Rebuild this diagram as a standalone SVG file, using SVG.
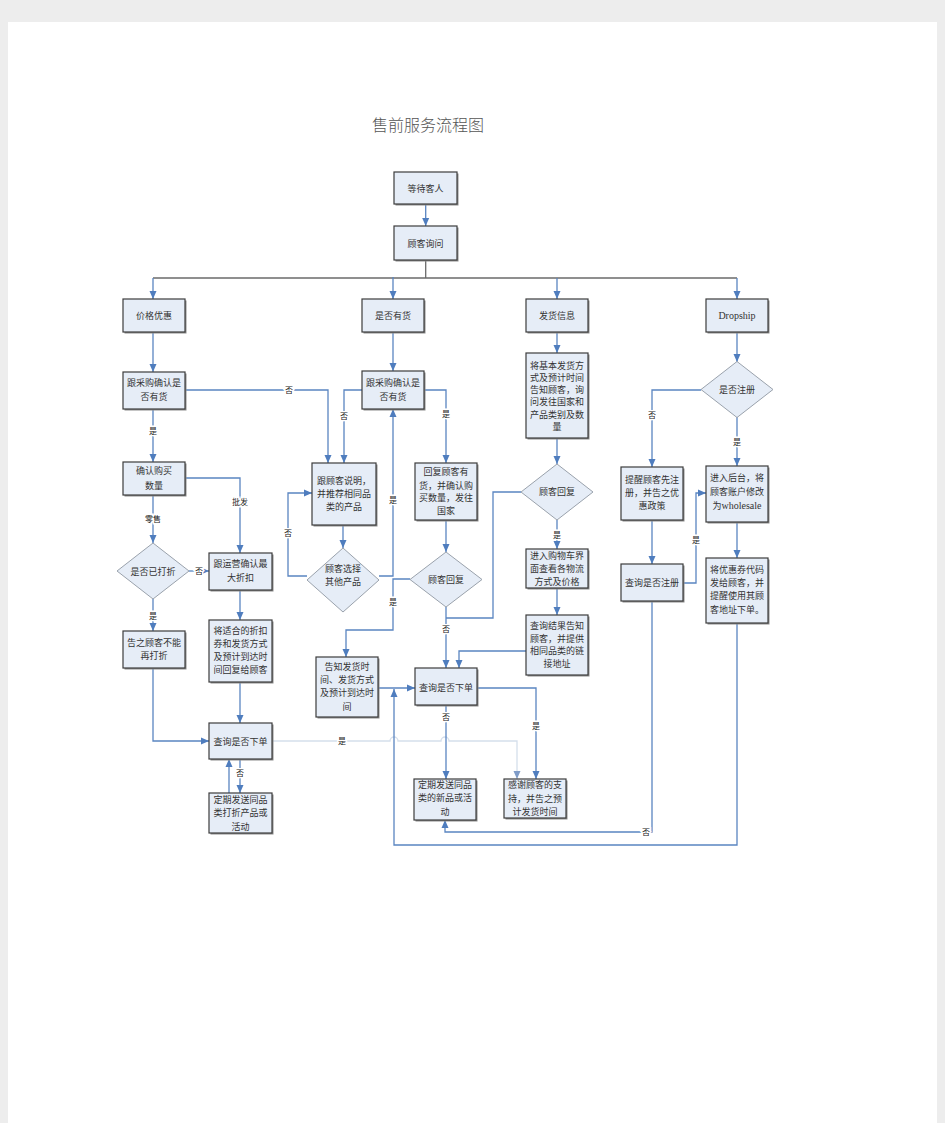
<svg xmlns="http://www.w3.org/2000/svg" width="945" height="1123" viewBox="0 0 945 1123">
<style>
.bg{fill:#ededed}
.page{fill:#ffffff}
.sh{fill:#8c8c8c}
.box{fill:#e6edf7;stroke:#3c3c3c;stroke-width:1.2}
.dia{fill:#e6edf7;stroke:#9aa2ac;stroke-width:1}
.t{font-family:"Noto Sans CJK SC","Noto Sans",sans-serif;font-size:9px;fill:#333;text-anchor:middle}
.lat{font-family:"Liberation Serif","Noto Sans CJK SC",serif;font-size:10px}
.c{fill:none;stroke:#5a85c1;stroke-width:1.3}
.g{fill:none;stroke:#6b6b6b;stroke-width:1.3}
.f{fill:none;stroke:#d5dfec;stroke-width:1.3}
.l{font-family:"Noto Sans CJK SC","Noto Sans",sans-serif;font-size:8px;fill:#222;text-anchor:middle;stroke:#fff;stroke-width:3;paint-order:stroke}
.title{font-family:"Noto Sans CJK SC",sans-serif;font-size:16px;fill:#555;text-anchor:middle;font-weight:300}
</style>
<defs>
<marker id="a" markerUnits="userSpaceOnUse" markerWidth="8" markerHeight="8" refX="8" refY="4" orient="auto"><path d="M0,0.5 L8,4 L0,7.5 z" fill="#4f7dbe"/></marker>
<marker id="af" markerUnits="userSpaceOnUse" markerWidth="8" markerHeight="8" refX="8" refY="4" orient="auto"><path d="M0,0.5 L8,4 L0,7.5 z" fill="#7f9cc8"/></marker>
</defs>
<rect class="bg" x="0" y="0" width="945" height="1123"/>
<rect class="page" x="8" y="22" width="929" height="1101"/>
<text class="title" x="428" y="131">售前服务流程图</text>

<g id="connectors">
<path class="g" d="M425.7,260 V278 M153,278 H737"/>
<path class="c" marker-end="url(#a)" d="M425.7,204 V226"/>
<path class="c" marker-end="url(#a)" d="M153,278 V299"/>
<path class="c" marker-end="url(#a)" d="M393,277 V299"/>
<path class="c" marker-end="url(#a)" d="M557,278 V299"/>
<path class="c" marker-end="url(#a)" d="M737,278 V299"/>
<path class="c" marker-end="url(#a)" d="M153,332 V372"/>
<path class="c" marker-end="url(#a)" d="M185,390 H328 V463"/>
<path class="c" marker-end="url(#a)" d="M153,409 V462"/>
<path class="c" marker-end="url(#a)" d="M185,478 H240 V553"/>
<path class="c" marker-end="url(#a)" d="M153,495 V543"/>
<path class="c" marker-end="url(#a)" d="M189,571 H209"/>
<path class="c" marker-end="url(#a)" d="M153,599 V631"/>
<path class="c" marker-end="url(#a)" d="M240,590 V620"/>
<path class="c" marker-end="url(#a)" d="M240,682 V723"/>
<path class="c" marker-end="url(#a)" d="M153,668 V741 H209"/>
<path class="c" marker-end="url(#a)" d="M240,759 V793"/>
<path class="c" marker-end="url(#a)" d="M229,793 V759"/>
<path class="f" marker-end="url(#af)" d="M272,741 H390 a4,4 0 0 1 8,0 H441 a4,4 0 0 1 8,0 H517 V779"/>
<path class="c" marker-end="url(#a)" d="M393,332 V371"/>
<path class="c" marker-end="url(#a)" d="M362,390 H344 V463"/>
<path class="c" marker-end="url(#a)" d="M424,390 H446 V463"/>
<path class="c" marker-end="url(#a)" d="M343,525 V548"/>
<path class="c" marker-end="url(#a)" d="M307,576 H288 V493 H312"/>
<path class="c" marker-end="url(#a)" d="M379,576 H393 V409"/>
<path class="c" marker-end="url(#a)" d="M446,520 V552"/>
<path class="c" marker-end="url(#a)" d="M410,579 H393 V630 H346 V657"/>
<path class="c" marker-end="url(#a)" d="M446,607 V668"/>
<path class="c" d="M521,492 H493 V618 H446"/>
<path class="c" marker-end="url(#a)" d="M526,651 H459 V668"/>
<path class="c" marker-end="url(#a)" d="M378,688 H415"/>
<path class="c" marker-end="url(#a)" d="M737,623 V845 H394 V689"/>
<path class="c" marker-end="url(#a)" d="M446,705 V779"/>
<path class="c" marker-end="url(#a)" d="M477,688 H536 V779"/>
<path class="c" marker-end="url(#a)" d="M557,332 V353"/>
<path class="c" marker-end="url(#a)" d="M557,438 V464"/>
<path class="c" marker-end="url(#a)" d="M557,520 V549"/>
<path class="c" marker-end="url(#a)" d="M557,588 V615"/>
<path class="c" marker-end="url(#a)" d="M737,332 V362"/>
<path class="c" marker-end="url(#a)" d="M701,390 H652 V467"/>
<path class="c" marker-end="url(#a)" d="M737,417 V466"/>
<path class="c" marker-end="url(#a)" d="M652,520 V564"/>
<path class="c" marker-end="url(#a)" d="M683,583 H696 V493 H706"/>
<path class="c" marker-end="url(#a)" d="M737,522 V558"/>
<path class="c" marker-end="url(#a)" d="M652,601 V832 H445 V820"/>
<text class="l" x="289" y="393">否</text>
<text class="l" x="153" y="434">是</text>
<text class="l" x="240" y="505">批发</text>
<text class="l" x="153" y="522">零售</text>
<text class="l" x="199" y="574">否</text>
<text class="l" x="153" y="619">是</text>
<text class="l" x="240" y="776">否</text>
<text class="l" x="342" y="744">是</text>
<text class="l" x="344" y="419">否</text>
<text class="l" x="446" y="417">是</text>
<text class="l" x="288" y="536">否</text>
<text class="l" x="393" y="503">是</text>
<text class="l" x="393" y="605">是</text>
<text class="l" x="446" y="632">否</text>
<text class="l" x="446" y="720">否</text>
<text class="l" x="536" y="729">是</text>
<text class="l" x="557" y="538">是</text>
<text class="l" x="652" y="418">否</text>
<text class="l" x="737" y="445">是</text>
<text class="l" x="696" y="543">是</text>
<text class="l" x="646" y="835">否</text>
</g>

<g id="n_wait"><rect class="sh" x="395.5" y="173.5" width="63" height="32"/><rect class="box" x="394" y="172" width="63" height="32"/><text class="t" x="425.5" y="191.5">等待客人</text></g>
<g id="n_ask"><rect class="sh" x="395.5" y="227.5" width="63" height="34"/><rect class="box" x="394" y="226" width="63" height="34"/><text class="t" x="425.5" y="246.5">顾客询问</text></g>
<g id="n_price"><rect class="sh" x="124.5" y="300.5" width="62" height="33"/><rect class="box" x="123" y="299" width="62" height="33"/><text class="t" x="154" y="319">价格优惠</text></g>
<g id="n_stock"><rect class="sh" x="363.5" y="300.5" width="62" height="33"/><rect class="box" x="362" y="299" width="62" height="33"/><text class="t" x="393" y="319">是否有货</text></g>
<g id="n_ship"><rect class="sh" x="527.5" y="300.5" width="62" height="33"/><rect class="box" x="526" y="299" width="62" height="33"/><text class="t" x="557" y="319">发货信息</text></g>
<g id="n_drop"><rect class="sh" x="707.5" y="300.5" width="62" height="33"/><rect class="box" x="706" y="299" width="62" height="33"/><text class="t lat" x="737" y="319">Dropship</text></g>
<g id="n_chk1"><rect class="sh" x="124.5" y="373.5" width="62" height="37"/><rect class="box" x="123" y="372" width="62" height="37"/><text class="t" x="154" y="386">跟采购确认是</text><text class="t" x="154" y="400">否有货</text></g>
<g id="n_qty"><rect class="sh" x="124.5" y="463.5" width="62" height="33"/><rect class="box" x="123" y="462" width="62" height="33"/><text class="t" x="154" y="474">确认购买</text><text class="t" x="154" y="488.5">数量</text></g>
<g id="n_chk2"><rect class="sh" x="363.5" y="372.5" width="62" height="38"/><rect class="box" x="362" y="371" width="62" height="38"/><text class="t" x="393" y="386">跟采购确认是</text><text class="t" x="393" y="400">否有货</text></g>
<g id="n_explain"><rect class="sh" x="313.5" y="464.5" width="64" height="62"/><rect class="box" x="312" y="463" width="64" height="62"/><text class="t" x="344" y="483.5">跟顾客说明，</text><text class="t" x="344" y="497">并推荐相同品</text><text class="t" x="344" y="509.5">类的产品</text></g>
<g id="n_reply"><rect class="sh" x="416.5" y="464.5" width="62" height="57"/><rect class="box" x="415" y="463" width="62" height="57"/><text class="t" x="446" y="475">回复顾客有</text><text class="t" x="446" y="488.5">货，并确认购</text><text class="t" x="446" y="500.5">买数量，发往</text><text class="t" x="446" y="513.5">国家</text></g>
<g id="n_info"><rect class="sh" x="527.5" y="354.5" width="62" height="85"/><rect class="box" x="526" y="353" width="62" height="85"/><text class="t" x="557" y="368.5">将基本发货方</text><text class="t" x="557" y="380.8">式及预计时间</text><text class="t" x="557" y="393.1">告知顾客，询</text><text class="t" x="557" y="405.4">问发往国家和</text><text class="t" x="557" y="417.7">产品类别及数</text><text class="t" x="557" y="430">量</text></g>
<g id="n_maxdisc"><rect class="sh" x="210.5" y="554.5" width="63" height="37"/><rect class="box" x="209" y="553" width="63" height="37"/><text class="t" x="240.5" y="567">跟运营确认最</text><text class="t" x="240.5" y="581">大折扣</text></g>
<g id="n_coupon"><rect class="sh" x="210.5" y="621.5" width="63" height="62"/><rect class="box" x="209" y="620" width="63" height="62"/><text class="t" x="240.5" y="634">将适合的折扣</text><text class="t" x="240.5" y="647">券和发货方式</text><text class="t" x="240.5" y="659.5">及预计到达时</text><text class="t" x="240.5" y="673">间回复给顾客</text></g>
<g id="n_nodisc"><rect class="sh" x="124.5" y="632.5" width="62" height="37"/><rect class="box" x="123" y="631" width="62" height="37"/><text class="t" x="154" y="645.5">告之顾客不能</text><text class="t" x="154" y="659">再打折</text></g>
<g id="n_order1"><rect class="sh" x="210.5" y="724.5" width="63" height="36"/><rect class="box" x="209" y="723" width="63" height="36"/><text class="t" x="240.5" y="744.5">查询是否下单</text></g>
<g id="n_promo1"><rect class="sh" x="210.5" y="794.5" width="63" height="40"/><rect class="box" x="209" y="793" width="63" height="40"/><text class="t" x="240.5" y="803">定期发送同品</text><text class="t" x="240.5" y="816">类打折产品或</text><text class="t" x="240.5" y="829.5">活动</text></g>
<g id="n_tell"><rect class="sh" x="317.5" y="658.5" width="62" height="60"/><rect class="box" x="316" y="657" width="62" height="60"/><text class="t" x="347" y="670">告知发货时</text><text class="t" x="347" y="683">间、发货方式</text><text class="t" x="347" y="696">及预计到达时</text><text class="t" x="347" y="709.5">间</text></g>
<g id="n_order2"><rect class="sh" x="416.5" y="669.5" width="62" height="37"/><rect class="box" x="415" y="668" width="62" height="37"/><text class="t" x="446" y="691">查询是否下单</text></g>
<g id="n_promo2"><rect class="sh" x="415.5" y="780.5" width="62" height="41"/><rect class="box" x="414" y="779" width="62" height="41"/><text class="t" x="445" y="788">定期发送同品</text><text class="t" x="445" y="801">类的新品或活</text><text class="t" x="445" y="815">动</text></g>
<g id="n_thanks"><rect class="sh" x="505.5" y="780.5" width="62" height="39"/><rect class="box" x="504" y="779" width="62" height="39"/><text class="t" x="535" y="788">感谢顾客的支</text><text class="t" x="535" y="801.5">持，并告之预</text><text class="t" x="535" y="814.5">计发货时间</text></g>
<g id="n_cart"><rect class="sh" x="527.5" y="550.5" width="62" height="39"/><rect class="box" x="526" y="549" width="62" height="39"/><text class="t" x="557" y="558.5">进入购物车界</text><text class="t" x="557" y="572">面查看各物流</text><text class="t" x="557" y="585">方式及价格</text></g>
<g id="n_result"><rect class="sh" x="527.5" y="616.5" width="62" height="60"/><rect class="box" x="526" y="615" width="62" height="60"/><text class="t" x="557" y="628.5">查询结果告知</text><text class="t" x="557" y="642">顾客，并提供</text><text class="t" x="557" y="654">相同品类的链</text><text class="t" x="557" y="667">接地址</text></g>
<g id="n_remind"><rect class="sh" x="622.5" y="468.5" width="62" height="53"/><rect class="box" x="621" y="467" width="62" height="53"/><text class="t" x="652" y="483">提醒顾客先注</text><text class="t" x="652" y="496">册，并告之优</text><text class="t" x="652" y="509">惠政策</text></g>
<g id="n_regchk"><rect class="sh" x="622.5" y="565.5" width="62" height="37"/><rect class="box" x="621" y="564" width="62" height="37"/><text class="t" x="652" y="586">查询是否注册</text></g>
<g id="n_backend"><rect class="sh" x="707.5" y="467.5" width="62" height="56"/><rect class="box" x="706" y="466" width="62" height="56"/><text class="t" x="737" y="481">进入后台，将</text><text class="t" x="737" y="495">顾客账户修改</text><text class="t" x="737" y="509">为<tspan class="lat">wholesale</tspan></text></g>
<g id="n_code"><rect class="sh" x="707.5" y="559.5" width="62" height="65"/><rect class="box" x="706" y="558" width="62" height="65"/><text class="t" x="737" y="573">将优惠券代码</text><text class="t" x="737" y="586">发给顾客，并</text><text class="t" x="737" y="599">提醒使用其顾</text><text class="t" x="737" y="613">客地址下单。</text></g>

<g id="d_disc"><polygon class="dia" points="153,543 189,571 153,599 117,571"/><text class="t" x="153" y="574.5">是否已打折</text></g>
<g id="d_other"><polygon class="dia" points="343,548 379,580 343,612 307,580"/><text class="t" x="343" y="572">顾客选择</text><text class="t" x="343" y="584.5">其他产品</text></g>
<g id="d_reply1"><polygon class="dia" points="446,552 482,579.5 446,607 410,579.5"/><text class="t" x="446" y="582.5">顾客回复</text></g>
<g id="d_reply2"><polygon class="dia" points="557,464 593,492 557,520 521,492"/><text class="t" x="557" y="495">顾客回复</text></g>
<g id="d_reg"><polygon class="dia" points="737,361.5 773,389.5 737,417.5 701,389.5"/><text class="t" x="737" y="393">是否注册</text></g>
</svg>
